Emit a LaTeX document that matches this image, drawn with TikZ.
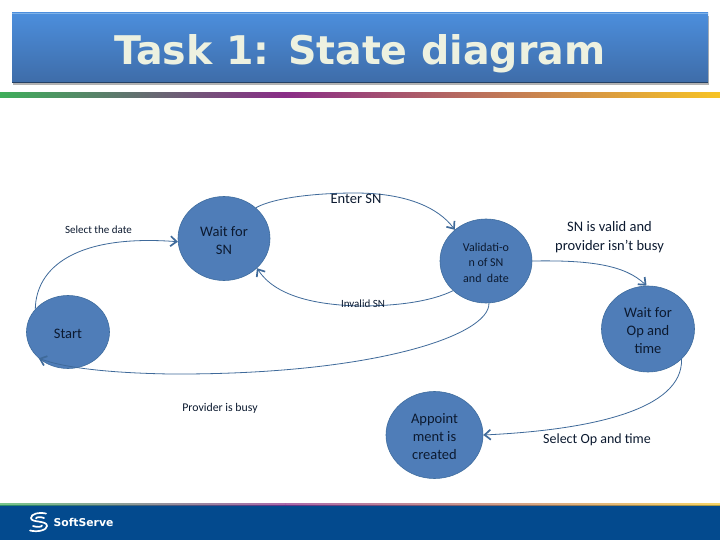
\documentclass[tikz,border=0pt]{standalone}
\usepackage{fontspec}
\setmainfont{Carlito}
\newfontfamily\titlefont{DejaVu Sans}
\newfontfamily\logofont{DejaVu Sans}
\usetikzlibrary{shapes.geometric,arrows.meta}
\definecolor{nodeblue}{HTML}{4F7DB8}
\definecolor{edgeblue}{HTML}{3F6A9A}
\definecolor{nodeline}{HTML}{3E6C9E}
\definecolor{inktext}{HTML}{0C1A30}
\definecolor{titlecol}{HTML}{EDF1E0}
\definecolor{footblue}{HTML}{034A8E}
\definecolor{barg}{HTML}{3FAE5A}
\definecolor{barp}{HTML}{8A2D87}
\definecolor{bary}{HTML}{F7C325}
\definecolor{headtop}{HTML}{4C8EDC}
\definecolor{headbot}{HTML}{3E6CA8}
\definecolor{headedge}{HTML}{7FB2E8}
\newcommand\lowstrut[1]{\rule{0pt}{#1pt}}
\tikzset{
  x=1pt,y=-1pt,
  statenode/.style={ellipse,draw=nodeline,line width=.6pt,fill=nodeblue,inner sep=0pt,align=center,text=inktext},
  edgeline/.style={draw=edgeblue,line width=.8pt},
  arrowed/.style={edgeline,-{Straight Barb[length=6pt,width=10pt,line width=1.7pt]}},
  edgelabel/.style={inner sep=0pt,text=inktext,anchor=center},
  logostroke/.style={draw=white,line width=1.7pt,line cap=round},
}
\begin{document}
\begin{tikzpicture}
\useasboundingbox (0,0) rectangle (720,540);
\fill[white] (0,0) rectangle (720,540);
% header
\fill[black!30] (13,16) rectangle (709,85);
\shade[top color=headtop,bottom color=headbot] (12,13) rectangle (708,83);
\fill[headedge] (12,13) rectangle (708,14.5);
\fill[headbot!60!black] (12,82.3) rectangle (708,83);
\node (title) at (360,54) [inner sep=0pt,text=titlecol,font=\titlefont\bfseries\fontsize{39.5}{42}\selectfont] {Task 1: State diagram};
% colour rule
\shade[left color=barg,right color=barp] (0,93) rectangle (285,98);
\shade[left color=barp,right color=bary] (285,93) rectangle (720,98);
% footer
\fill[footblue] (0,505) rectangle (720,540);
\shade[left color=barg,right color=barp,opacity=.7] (0,503) rectangle (285,505.5);
\shade[left color=barp,right color=bary,opacity=.7] (285,503) rectangle (720,505.5);
\node (logo) at (83.5,522) [inner sep=0pt,text=white,font=\logofont\bfseries\fontsize{10.8}{12}\selectfont,anchor=center] {SoftServe};
\draw[logostroke] (46,513.5) .. controls (38,512) and (31,514) .. (31,518) .. controls (31,523) and (47,520) .. (47,526) .. controls (47,530) and (38,532.5) .. (30,530.5);
\draw[logostroke] (44,518) .. controls (40,516.5) and (36,517) .. (36,518.5);
\draw[logostroke] (33,526) .. controls (37,527.5) and (42,527) .. (42,525.5);
% states
\node[statenode,minimum width=92pt,minimum height=84pt,font=\fontsize{14.5}{18}\selectfont] (wait) at (224,238.5) {\lowstrut{14}Wait for\\SN};
\node[statenode,minimum width=92pt,minimum height=84pt,font=\fontsize{12}{15.5}\selectfont] (valid) at (486,261) {\lowstrut{12}Validati-o\\n of SN\\and\ \ date};
\node[statenode,minimum width=93pt,minimum height=86pt,font=\fontsize{14.5}{18}\selectfont] (waitop) at (648,329) {\lowstrut{14}Wait for\\Op and\\time};
\node[statenode,minimum width=83pt,minimum height=73pt,font=\fontsize{14.5}{18}\selectfont] (start) at (68,332) {\lowstrut{14}Start};
\node[statenode,minimum width=97pt,minimum height=87pt,font=\fontsize{14.5}{18}\selectfont] (appt) at (434.5,435) {\lowstrut{14}Appoint\\ment is\\created};
% connectors
\draw[arrowed] (wait.44) .. controls (275,197) and (320,193) .. (355,193) .. controls (405,193) and (438,207) .. (valid.135);
\draw[arrowed] (valid.222) .. controls (430,302) and (395,306) .. (360,306) .. controls (315,305) and (275,296) .. (wait.318);
\draw[arrowed] (valid.east) .. controls (590,260) and (625,265) .. (waitop.92);
\draw[arrowed] (valid.274) .. controls (490,335) and (375,375) .. (170,374) .. controls (110,373) and (65,368) .. (start.222);
\draw[arrowed] (start.145) .. controls (36,268) and (75,234) .. (wait.184);
\draw[arrowed] (waitop.318) .. controls (683,410) and (590,430) .. (appt.east);
% labels
\node[edgelabel,font=\fontsize{14.5}{16}\selectfont] (l1) at (356,199) {Enter SN};
\node[edgelabel,font=\fontsize{11}{12}\selectfont] (l2) at (363,304) {Invalid SN};
\node[edgelabel,font=\fontsize{11}{12}\selectfont] (l3) at (98.5,230) {Select the date};
\node[edgelabel,font=\fontsize{14.5}{18.5}\selectfont,align=center] (l4) at (609.5,237) {SN is valid and\\provider isn't busy};
\node[edgelabel,font=\fontsize{11.8}{12}\selectfont] (l5) at (220,408) {Provider is busy};
\node[edgelabel,font=\fontsize{14}{16}\selectfont] (l6) at (597,440) {Select Op and time};
\end{tikzpicture}
\end{document}
